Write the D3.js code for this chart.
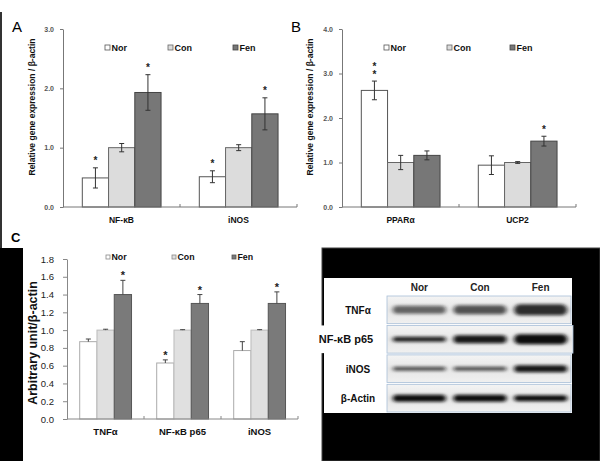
<!DOCTYPE html>
<html>
<head>
<meta charset="utf-8">
<script src="https://cdnjs.cloudflare.com/ajax/libs/d3/7.8.5/d3.min.js"></script>
<style>
  body { margin: 0; background: #fff; }
  svg { display: block; font-family: "Liberation Sans", Arial, sans-serif; }
</style>
</head>
<body>
<div id="chart"></div>
<script>
// Groups shared by all panels
const groups = ['Nor', 'Con', 'Fen']

// Panel A (values per gene: Nor, Con, Fen)
const genesA = ['NF-κB', 'iNOS']
const meansA = [[0.49, 1.00, 1.93], [0.51, 1.00, 1.57]]
const errsA = [[0.17, 0.07, 0.30], [0.10, 0.05, 0.27]]
const starsA = [[1, 0, 1], [1, 0, 1]]
const ticksA = [0, 1, 2, 3]

// Panel B
const genesB = ['PPARα', 'UCP2']
const meansB = [[2.62, 1.00, 1.16], [0.94, 1.00, 1.48]]
const errsB = [[0.21, 0.16, 0.10], [0.21, 0.02, 0.11]]
const starsB = [[2, 0, 0], [0, 0, 1]]
const ticksB = [0, 1, 2, 3, 4]

// Panel C (error bars only upward)
const genesC = ['TNFα', 'NF-κB p65', 'iNOS']
const meansC = [[0.87, 1.00, 1.40], [0.63, 1.00, 1.30], [0.77, 1.00, 1.30]]
const errsC = [[0.03, 0.01, 0.16], [0.035, 0.005, 0.10], [0.10, 0.005, 0.13]]
const starsC = [[0, 0, 1], [1, 0, 1], [0, 0, 1]]
const ticksC = [0, 0.2, 0.4, 0.6, 0.8, 1.0, 1.2, 1.4, 1.6, 1.8]

// Western blot (band thickness px, darkness 0..1)
const blotLanes = ['Nor', 'Con', 'Fen']
const blotRows = ['TNFα', 'NF-κB p65', 'iNOS', 'β-Actin']
const bandThick = [[8, 9, 11], [5, 8, 10], [4, 4, 7], [7, 7, 6]]
const bandDark = [[0.6, 0.68, 0.85], [0.9, 0.95, 1.0], [0.7, 0.7, 0.95], [1.0, 1.0, 1.0]]

const width = 600, height = 461

const svg = d3.select('#chart').append('svg')
    .attr('width', width)
    .attr('height', height)

const defs = svg.append('defs')
defs.append('filter').attr('id', 'blur')
    .attr('x', '-20%').attr('y', '-100%').attr('width', '140%').attr('height', '300%')
    .append('feGaussianBlur').attr('stdDeviation', '2.2 1.7')
const grad = defs.append('linearGradient').attr('id', 'rowbg')
    .attr('x1', 0).attr('y1', 0).attr('x2', 0).attr('y2', 1)
grad.append('stop').attr('offset', '0%').attr('stop-color', '#f4f4f4')
grad.append('stop').attr('offset', '50%').attr('stop-color', '#e6e6e6')
grad.append('stop').attr('offset', '100%').attr('stop-color', '#f0f0f0')

// Black frame pieces from the original figure
svg.append('rect').attr('x', 0).attr('y', 12).attr('width', 2).attr('height', 236).attr('fill', '#333')
svg.append('rect').attr('x', 0).attr('y', 248).attr('width', 23).attr('height', 213).attr('fill', '#000')
svg.append('rect').attr('x', 322).attr('y', 248).attr('width', 278).attr('height', 213)
    .attr('fill', '#000').attr('stroke', '#444')

function barPanel(cfg) {
    const g = svg.append('g')
    const x = d3.scaleBand().domain(cfg.genes).range([cfg.x0, cfg.x1])
    const bw = x.bandwidth()
    const xi = d3.scaleBand().domain(groups).range([bw * 0.165, bw * 0.838])
    const y = d3.scaleLinear().domain([0, cfg.max]).range([cfg.y0, cfg.y1])

    // y axis
    const yAxis = d3.axisLeft(y)
        .tickValues(cfg.ticks)
        .tickFormat(d3.format('.1f'))
        .tickSize(cfg.tickSize)
        .tickSizeOuter(0)
        .tickPadding(cfg.tickPad)
    const ya = g.append('g')
        .attr('transform', 'translate(' + cfg.x0 + ',0)')
        .call(yAxis)
    ya.select('.domain').attr('stroke', cfg.axisColor)
    ya.selectAll('.tick line').attr('stroke', cfg.axisColor)
    ya.selectAll('.tick text')
        .attr('fill', cfg.textColor)
        .style('font-size', cfg.tickFont + 'px')
        .style('font-weight', cfg.tickWeight)
        .style('font-family', '"Liberation Sans", Arial, sans-serif')

    // bars
    cfg.genes.forEach((gene, gi) => {
        const gg = g.append('g').attr('transform', 'translate(' + x(gene) + ',0)')
        const rows = groups.map((grp, k) => ({
            grp: grp,
            v: cfg.means[gi][k],
            e: cfg.errs[gi][k],
            s: cfg.stars[gi][k]
        }))
        gg.selectAll('.bar')
            .data(rows)
            .enter()
            .append('rect')
            .attr('class', 'bar')
            .attr('x', d => xi(d.grp))
            .attr('y', d => y(d.v))
            .attr('width', xi.bandwidth())
            .attr('height', d => cfg.y0 - y(d.v))
            .attr('fill', d => cfg.fill[d.grp])
            .attr('stroke', d => cfg.stroke[d.grp])
            .attr('stroke-width', 1)

        const cx = d => xi(d.grp) + xi.bandwidth() / 2
        const lo = d => cfg.twoSided ? y(d.v - d.e) : y(d.v)
        gg.selectAll('.err')
            .data(rows)
            .enter()
            .append('line')
            .attr('x1', cx).attr('x2', cx)
            .attr('y1', lo)
            .attr('y2', d => y(d.v + d.e))
            .attr('stroke', cfg.errColor)
        gg.selectAll('.capt')
            .data(rows)
            .enter()
            .append('line')
            .attr('x1', d => cx(d) - 2.5).attr('x2', d => cx(d) + 2.5)
            .attr('y1', d => y(d.v + d.e)).attr('y2', d => y(d.v + d.e))
            .attr('stroke', cfg.errColor)
        if (cfg.twoSided) {
            gg.selectAll('.capb')
                .data(rows)
                .enter()
                .append('line')
                .attr('x1', d => cx(d) - 2.5).attr('x2', d => cx(d) + 2.5)
                .attr('y1', lo).attr('y2', lo)
                .attr('stroke', cfg.errColor)
        }
        // asterisks: one text element, stacked with tspans when there are two
        rows.filter(d => d.s > 0).forEach(d => {
            const t = gg.append('text')
                .attr('text-anchor', 'middle')
                .attr('fill', '#222')
                .style('font-size', cfg.starFont + 'px')
                .style('font-weight', 'bold')
            d3.range(d.s).forEach(i => {
                t.append('tspan')
                    .attr('x', cx(d))
                    .attr(i === 0 ? 'y' : 'dy', i === 0 ? y(d.v + d.e) - cfg.starGap + cfg.starFont * 0.55 : -cfg.starStep)
                    .text('*')
            })
        })
    })

    // x axis line with group separators pointing up
    g.append('line')
        .attr('x1', cfg.x0).attr('x2', cfg.x1)
        .attr('y1', cfg.y0).attr('y2', cfg.y0)
        .attr('stroke', cfg.axisColor)
    g.selectAll('.xtick')
        .data(cfg.genes)
        .enter()
        .append('line')
        .attr('x1', d => x(d) + bw).attr('x2', d => x(d) + bw)
        .attr('y1', cfg.y0).attr('y2', cfg.y0 - 3)
        .attr('stroke', cfg.axisColor)
    g.selectAll('.xlabel')
        .data(cfg.genes)
        .enter()
        .append('text')
        .attr('x', d => x(d) + bw / 2)
        .attr('y', cfg.xLabelY)
        .attr('text-anchor', 'middle')
        .attr('fill', '#111')
        .style('font-size', cfg.xLabelFont + 'px')
        .style('font-weight', 'bold')
        .text(d => d)

    // y label
    g.append('text')
        .attr('transform', 'translate(' + cfg.yLabelX + ',' + cfg.yLabelY + ') rotate(-90)')
        .attr('text-anchor', 'middle')
        .attr('fill', '#111')
        .style('font-size', cfg.yLabelFont + 'px')
        .style('font-weight', 'bold')
        .text(cfg.yLabel)

    // legend
    const lg = g.selectAll('.legend')
        .data(groups)
        .enter()
        .append('g')
        .attr('transform', (d, i) => 'translate(' + (cfg.x0 + cfg.legendX[i]) + ',' + cfg.legendY + ')')
    lg.append('rect')
        .attr('x', 0).attr('y', -cfg.legendBox / 2)
        .attr('width', cfg.legendBox).attr('height', cfg.legendBox)
        .attr('fill', d => cfg.fill[d])
        .attr('stroke', d => cfg.legendStroke[d])
        .attr('stroke-width', 0.8)
    lg.append('text')
        .attr('x', cfg.legendBox + 1.5)
        .attr('y', cfg.legendFont * 0.36)
        .attr('fill', '#111')
        .style('font-size', cfg.legendFont + 'px')
        .style('font-weight', 'bold')
        .text(d => d)
}

const fillAB = { Nor: '#ffffff', Con: '#dcdcdc', Fen: '#777777' }
const strokeAB = { Nor: '#555', Con: '#666', Fen: '#444' }

const baseAB = {
    y0: 207, y1: 29,
    tickSize: 3, tickPad: 6, tickFont: 7, tickWeight: 'bold',
    axisColor: '#777', textColor: '#555', errColor: '#333',
    fill: fillAB, stroke: strokeAB, legendStroke: strokeAB,
    twoSided: true,
    starFont: 10, starGap: 9, starStep: 7.5,
    xLabelY: 223, xLabelFont: 8.5,
    yLabelFont: 8.5, yLabelY: 107,
    legendY: 47.5, legendBox: 5, legendFont: 9,
    yLabel: 'Relative gene expression / β-actin'
}

barPanel(Object.assign({}, baseAB, {
    x0: 63, x1: 297, max: 3, ticks: ticksA,
    genes: genesA, means: meansA, errs: errsA, stars: starsA,
    yLabelX: 35, legendX: [42, 105, 170]
}))

barPanel(Object.assign({}, baseAB, {
    x0: 342, x1: 576, max: 4, ticks: ticksB,
    genes: genesB, means: meansB, errs: errsB, stars: starsB,
    yLabelX: 313, legendX: [42, 105, 168]
}))

barPanel({
    x0: 67, x1: 298, y0: 419, y1: 259, max: 1.8, ticks: ticksC,
    tickSize: 4, tickPad: 9, tickFont: 9.5, tickWeight: 'normal',
    axisColor: '#888', textColor: '#222', errColor: '#444',
    fill: { Nor: '#ffffff', Con: '#e0e0e0', Fen: '#7a7a7a' },
    stroke: { Nor: '#aaa', Con: '#bbb', Fen: '#555' },
    legendStroke: { Nor: '#888', Con: '#888', Fen: '#555' },
    twoSided: false,
    genes: genesC, means: meansC, errs: errsC, stars: starsC,
    starFont: 11, starGap: 7, starStep: 8,
    xLabelY: 435, xLabelFont: 9.5,
    yLabelX: 37, yLabelY: 343, yLabelFont: 12.5,
    yLabel: 'Arbitrary unit/β-actin',
    legendX: [39, 105, 165], legendY: 257, legendBox: 4, legendFont: 8.8
})

// Panel letters
svg.append('text').attr('x', 12).attr('y', 32).style('font-size', '15px').text('A')
svg.append('text').attr('x', 291).attr('y', 32).style('font-size', '15px').text('B')
svg.append('text').attr('x', 11).attr('y', 242).style('font-size', '13px').style('font-weight', 'bold').text('C')

// Western blot
const blot = svg.append('g')
blot.append('rect').attr('x', 324).attr('y', 278).attr('width', 248).attr('height', 135).attr('fill', '#fff')

const lane = d3.scaleBand().domain(blotLanes).range([389, 571]).paddingInner(0.06).paddingOuter(0.03)
const row = d3.scaleBand().domain(blotRows).range([296, 412]).paddingInner(0.06)

blot.selectAll('.lane-label')
    .data(blotLanes)
    .enter()
    .append('text')
    .attr('x', d => lane(d) + lane.bandwidth() / 2)
    .attr('y', 291)
    .attr('text-anchor', 'middle')
    .attr('fill', '#222')
    .style('font-size', '10px')
    .style('font-weight', 'bold')
    .text(d => d)

blotRows.forEach((r, ri) => {
    const ry = row(r), rh = row.bandwidth()
    blot.append('rect')
        .attr('x', 387).attr('y', ry)
        .attr('width', ri === 1 ? 186 : 184).attr('height', rh)
        .attr('fill', 'url(#rowbg)')
        .attr('stroke', '#a8bfd8')
        .attr('stroke-width', 0.8)
    if (ri === 1) {
        blot.append('rect').attr('x', 315).attr('y', ry).attr('width', 70).attr('height', rh).attr('fill', '#fff')
    }
    blot.append('text')
        .attr('x', ri === 1 ? 346 : 358)
        .attr('y', ry + rh / 2 + 4)
        .attr('text-anchor', 'middle')
        .attr('fill', '#111')
        .style('font-size', ri === 1 ? '11px' : '10px')
        .style('font-weight', 'bold')
        .text(r)
    blot.selectAll('.band' + ri)
        .data(blotLanes)
        .enter()
        .append('rect')
        .attr('x', d => lane(d) + 2)
        .attr('y', (d, i) => ry + rh / 2 - bandThick[ri][i] / 2)
        .attr('width', lane.bandwidth() - 4)
        .attr('height', (d, i) => bandThick[ri][i])
        .attr('rx', (d, i) => bandThick[ri][i] / 2)
        .attr('fill', '#111')
        .attr('opacity', (d, i) => bandDark[ri][i])
        .attr('filter', 'url(#blur)')
})
</script>
</body>
</html>
